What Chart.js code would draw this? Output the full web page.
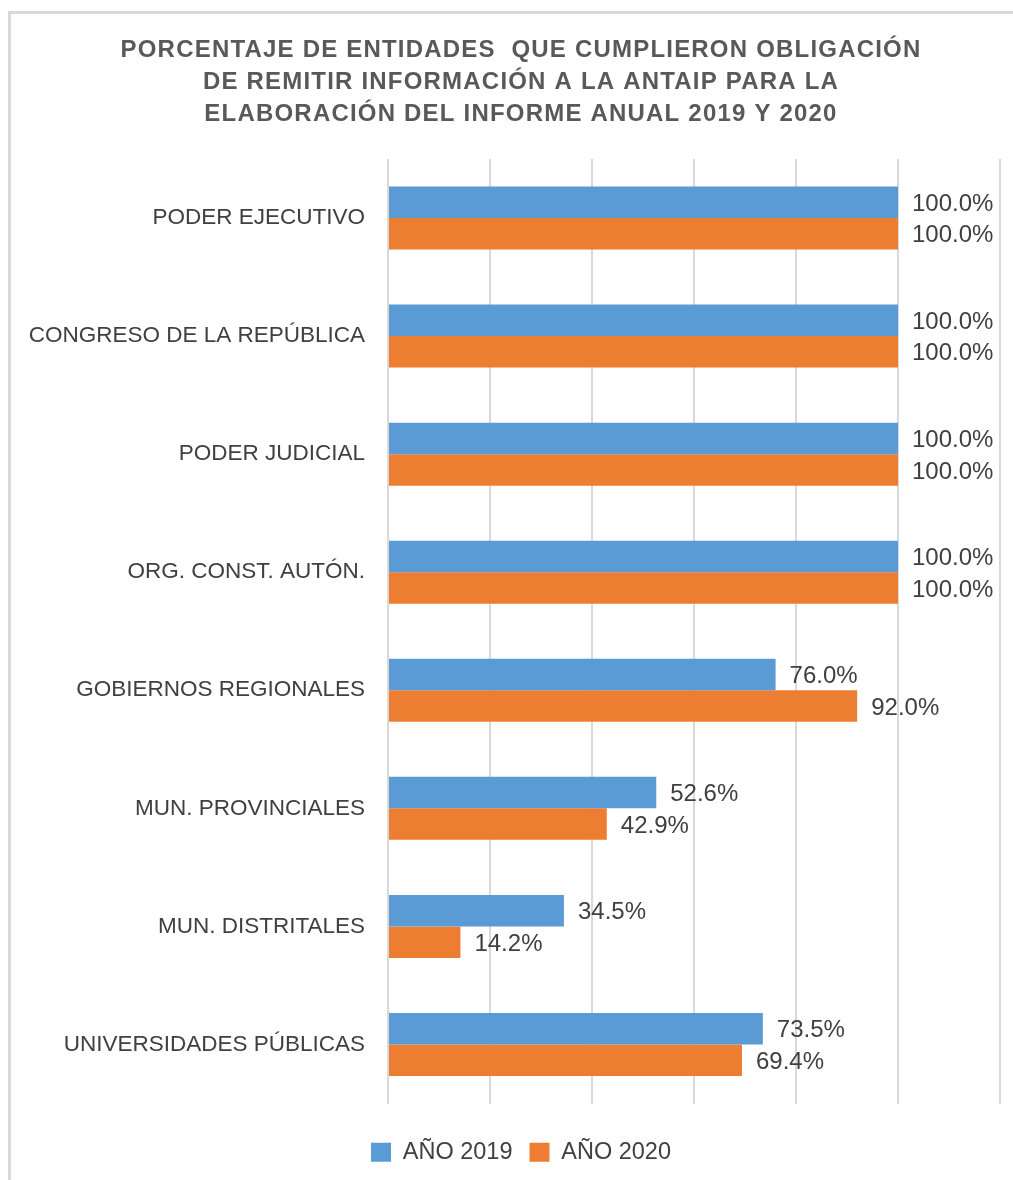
<!DOCTYPE html>
<html>
<head>
<meta charset="utf-8">
<script src="https://cdn.jsdelivr.net/npm/chart.js@4/dist/chart.umd.min.js"></script>
<style>
  html, body { margin: 0; padding: 0; background: #ffffff; overflow: hidden; }
  #wrap { position: relative; width: 1013px; height: 1180px; }
</style>
</head>
<body>
<div id="wrap"><canvas id="c"></canvas></div>
<script>
const titleLines = [
  'PORCENTAJE DE ENTIDADES  QUE CUMPLIERON OBLIGACIÓN',
  'DE REMITIR INFORMACIÓN A LA ANTAIP PARA LA',
  'ELABORACIÓN DEL INFORME ANUAL 2019 Y 2020'
];
const categories = [
  'PODER EJECUTIVO',
  'CONGRESO DE LA REPÚBLICA',
  'PODER JUDICIAL',
  'ORG. CONST. AUTÓN.',
  'GOBIERNOS REGIONALES',
  'MUN. PROVINCIALES',
  'MUN. DISTRITALES',
  'UNIVERSIDADES PÚBLICAS'
];
const seriesNames = ['AÑO 2019', 'AÑO 2020'];
const values2019 = [100.0, 100.0, 100.0, 100.0, 76.0, 52.6, 34.5, 73.5];
const values2020 = [100.0, 100.0, 100.0, 100.0, 92.0, 42.9, 14.2, 69.4];
const axisMin = 0;
const axisMax = 120;
const axisStep = 20;

const FONT = "'Liberation Sans', Arial, Helvetica, sans-serif";
const TEXT = '#404040';

const framePlugin = {
  id: 'frame',
  beforeDraw(chart) {
    const ctx = chart.ctx;
    ctx.save();
    ctx.fillStyle = '#ffffff';
    ctx.fillRect(0, 0, chart.width, chart.height);
    ctx.fillStyle = '#d9d9d9';
    ctx.fillRect(8, 11, 3, chart.height - 11);
    ctx.fillRect(8, 11, chart.width - 8, 3);
    ctx.restore();
  }
};

// Shift title and legend so they are centred on the whole frame, and space the title letters.
const boxTweakPlugin = {
  id: 'boxTweak',
  afterLayout(chart) {
    const tb = chart.titleBlock;
    if (tb && !tb._tweaked) {
      const orig = tb.draw.bind(tb);
      tb.draw = function (area) {
        const ctx = chart.ctx;
        ctx.save();
        ctx.translate(21, 0);
        ctx.letterSpacing = '1.2px';
        orig(area);
        ctx.restore();
      };
      tb._tweaked = true;
    }
    const lg = chart.legend;
    if (lg && !lg._tweaked) {
      const origL = lg.draw.bind(lg);
      lg.draw = function (area) {
        const ctx = chart.ctx;
        ctx.save();
        ctx.translate(21, 0);
        origL(area);
        ctx.restore();
      };
      lg._tweaked = true;
    }
  }
};

const valueLabelPlugin = {
  id: 'valueLabels',
  afterDatasetsDraw(chart) {
    const ctx = chart.ctx;
    ctx.save();
    ctx.font = '24px ' + FONT;
    ctx.fillStyle = TEXT;
    ctx.textAlign = 'left';
    ctx.textBaseline = 'middle';
    chart.data.datasets.forEach((ds, di) => {
      const meta = chart.getDatasetMeta(di);
      meta.data.forEach((bar, i) => {
        ctx.fillText(ds.data[i].toFixed(1) + '%', bar.x + 14, bar.y + 2);
      });
    });
    ctx.restore();
  }
};

new Chart(document.getElementById('c'), {
  type: 'bar',
  data: {
    labels: categories,
    datasets: [
      { label: seriesNames[0], data: values2019, backgroundColor: '#5B9BD5', borderWidth: 0 },
      { label: seriesNames[1], data: values2020, backgroundColor: '#ED7D31', borderWidth: 0 }
    ]
  },
  options: {
    indexAxis: 'y',
    responsive: true,
    maintainAspectRatio: false,
    animation: false,
    events: [],
    layout: { padding: { top: 0, left: 0, right: 13, bottom: 6 } },
    datasets: { bar: { categoryPercentage: 0.534, barPercentage: 1.0 } },
    scales: {
      x: {
        min: axisMin,
        max: axisMax,
        ticks: { display: false, stepSize: axisStep },
        grid: { color: '#d9d9d9', lineWidth: 2, drawTicks: false },
        border: { display: false },
        afterFit(s) { s.height = 20; }
      },
      y: {
        ticks: { color: TEXT, font: { family: FONT, size: 22.5 }, padding: 23 },
        grid: { display: false, drawTicks: false },
        border: { display: false },
        afterFit(s) { s.width = 388; }
      }
    },
    plugins: {
      title: {
        display: true,
        text: titleLines,
        color: '#595959',
        font: { family: FONT, size: 24, weight: 'bold', lineHeight: 32 / 24 },
        padding: { top: 34, bottom: 29 }
      },
      legend: {
        display: true,
        position: 'bottom',
        labels: {
          color: TEXT,
          font: { family: FONT, size: 23.5 },
          boxWidth: 20,
          boxHeight: 19,
          padding: 17
        }
      },
      tooltip: { enabled: false }
    }
  },
  plugins: [framePlugin, boxTweakPlugin, valueLabelPlugin]
});
</script>
</body>
</html>
